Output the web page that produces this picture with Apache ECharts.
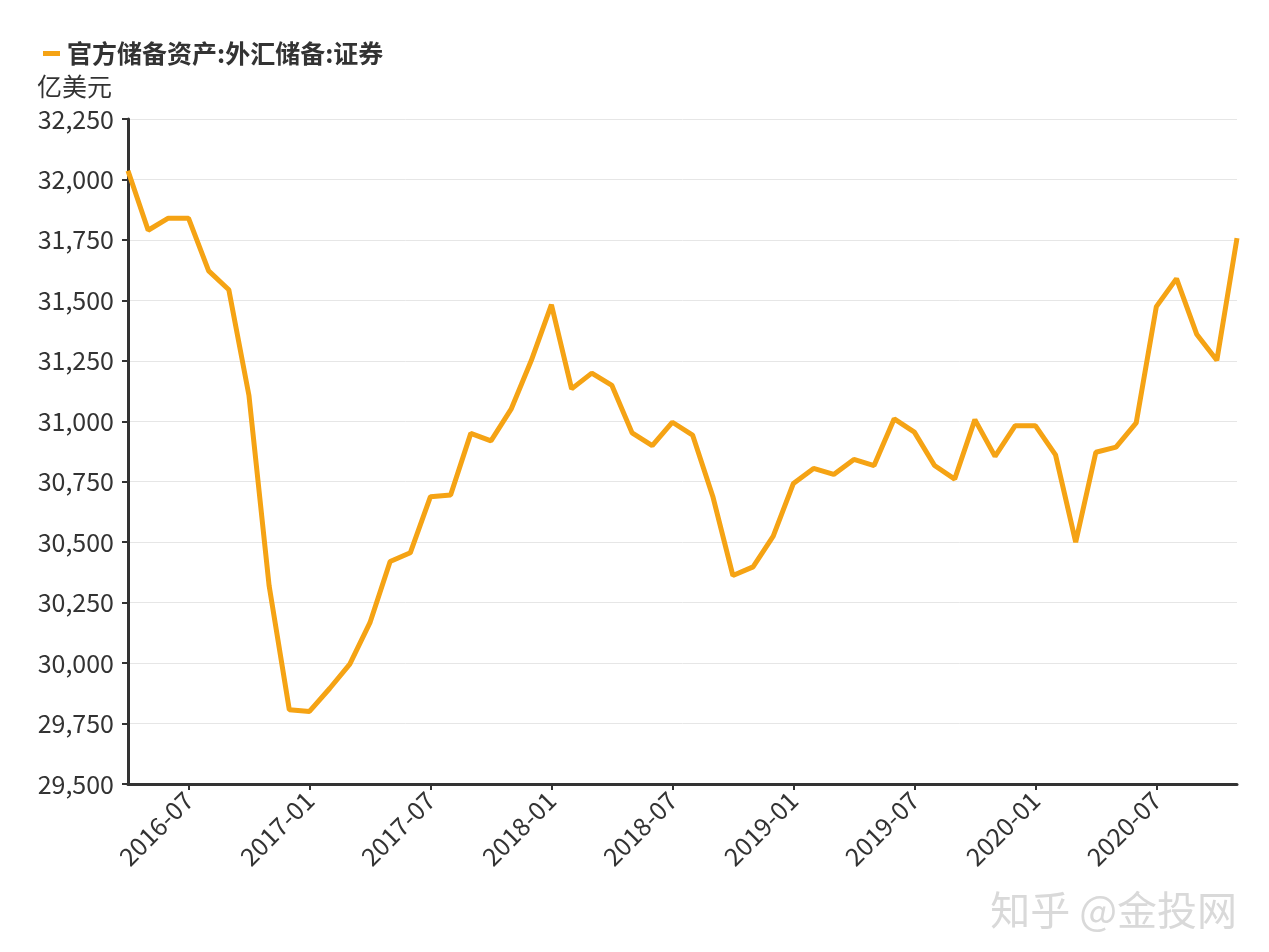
<!DOCTYPE html>
<html>
<head>
<meta charset="utf-8">
<script src="https://cdn.jsdelivr.net/npm/echarts@6/dist/echarts.min.js"></script>
<style>
  html, body { margin: 0; padding: 0; background: #fff; }
  #chart { width: 1269px; height: 952px; }
</style>
</head>
<body>
<div id="chart"></div>
<script>
// 月份 2016-04 ~ 2020-11
const months = [
  "2016-04", "2016-05", "2016-06", "2016-07", "2016-08", "2016-09", "2016-10", "2016-11", "2016-12",
  "2017-01", "2017-02", "2017-03", "2017-04", "2017-05", "2017-06", "2017-07", "2017-08", "2017-09", "2017-10", "2017-11", "2017-12",
  "2018-01", "2018-02", "2018-03", "2018-04", "2018-05", "2018-06", "2018-07", "2018-08", "2018-09", "2018-10", "2018-11", "2018-12",
  "2019-01", "2019-02", "2019-03", "2019-04", "2019-05", "2019-06", "2019-07", "2019-08", "2019-09", "2019-10", "2019-11", "2019-12",
  "2020-01", "2020-02", "2020-03", "2020-04", "2020-05", "2020-06", "2020-07", "2020-08", "2020-09", "2020-10", "2020-11"
];
// 官方储备资产:外汇储备:证券 (亿美元)
const securities = [
  32036, 31790, 31840, 31840, 31622, 31544, 31106, 30319, 29807,
  29800, 29895, 29996, 30167, 30420, 30456, 30688, 30695, 30950, 30919, 31050, 31251,
  31482, 31134, 31199, 31148, 30952, 30899, 30996, 30943, 30690, 30362, 30398, 30525,
  30743, 30805, 30780, 30842, 30817, 31010, 30955, 30817, 30761, 31007, 30855, 30982,
  30982, 30861, 30500, 30872, 30893, 30993, 31474, 31590, 31360, 31252, 31757
];
const seriesName = "官方储备资产:外汇储备:证券";
const unitName = "亿美元";
const yMin = 29500, yMax = 32250, yStep = 250;

const font = "'Noto Sans CJK SC', 'Noto Sans', sans-serif";
const everySix = (idx) => (idx - 3) % 6 === 0;

const chart = echarts.init(document.getElementById("chart"));
const option = {
  animation: false,
  color: ["#F5A314"],
  textStyle: { fontFamily: font },
  legend: {
    left: 38,
    top: 36,
    itemWidth: 17,
    itemHeight: 5,
    icon: "rect",
    itemGap: 10,
    textStyle: { fontSize: 25, fontWeight: "bold", color: "#333", fontFamily: font, padding: [0, 0, 0, 2] },
    data: [seriesName]
  },
  grid: { left: 128, right: 32, top: 119, bottom: 168 },
  xAxis: {
    type: "category",
    data: months,
    boundaryGap: false,
    axisLine: { lineStyle: { color: "#333", width: 3 } },
    axisTick: { show: true, interval: everySix, length: 6, lineStyle: { color: "#333", width: 2 } },
    axisLabel: {
      interval: everySix,
      rotate: 45,
      fontSize: 25,
      color: "#333",
      margin: 12,
      fontFamily: font
    },
    splitLine: { show: false }
  },
  yAxis: {
    type: "value",
    min: yMin,
    max: yMax,
    interval: yStep,
    name: unitName,
    nameLocation: "end",
    nameGap: 20,
    nameTextStyle: { fontSize: 25, color: "#333", align: "right", padding: [0, 16, 0, 0], fontFamily: font },
    axisLine: { show: true, lineStyle: { color: "#333", width: 3 } },
    axisTick: { show: true, length: 6, lineStyle: { color: "#333", width: 2 } },
    axisLabel: {
      fontSize: 25,
      color: "#333",
      margin: 14,
      fontFamily: font,
      formatter: (v) => v.toLocaleString("en-US")
    },
    splitLine: { lineStyle: { color: "#e6e6e6", width: 1 } }
  },
  series: [
    {
      name: seriesName,
      type: "line",
      data: securities,
      symbol: "none",
      lineStyle: { width: 5, color: "#F5A314" }
    }
  ],
  graphic: [
    {
      type: "text",
      right: 32,
      bottom: 22,
      style: {
        text: "知乎 @金投网",
        fontSize: 40,
        fontFamily: font,
        fill: "#d9d9d9",
        textShadowColor: "#9a9a9a",
        textShadowOffsetX: 1,
        textShadowOffsetY: 1,
        textShadowBlur: 0
      }
    }
  ]
};
chart.setOption(option);
</script>
</body>
</html>
